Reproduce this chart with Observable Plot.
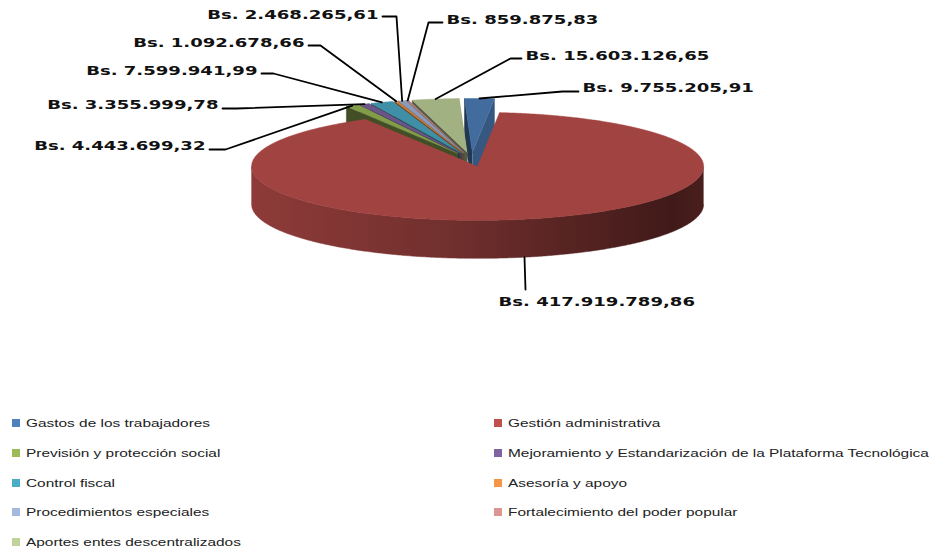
<!DOCTYPE html>
<html>
<head>
<meta charset="utf-8">
<script src="https://cdn.jsdelivr.net/npm/d3@7"></script>
<script src="https://cdn.jsdelivr.net/npm/@observablehq/plot@0.6"></script>
<style>
  html, body { margin: 0; padding: 0; background: #fff; }
  #wrap { position: relative; width: 935px; height: 550px; overflow: hidden; background: #fff; }
  #legend { position: absolute; left: 0; top: 408px; width: 935px; }
  .row { position: absolute; height: 16px; display: flex; align-items: center; }
  .sw { width: 8px; height: 8px; margin-right: 6px; flex: none; }
  .lt { display: inline-block; white-space: nowrap; font-family: "Liberation Sans", Arial, sans-serif;
        font-size: 11px; color: #222; transform: scaleX(1.4); transform-origin: 0 50%; }
</style>
</head>
<body>
<div id="wrap"><div id="chart"></div><div id="legend"></div></div>
<script>
// ---------- data ----------
const categories = [
  "Gastos de los trabajadores",
  "Gestión administrativa",
  "Previsión y protección social",
  "Mejoramiento y Estandarización de la Plataforma Tecnológica",
  "Control fiscal",
  "Asesoría y apoyo",
  "Procedimientos especiales",
  "Fortalecimiento del poder popular",
  "Aportes entes descentralizados"
];
const values = [9755205.91, 417919789.86, 4443699.32, 3355999.78, 7599941.99, 1092678.66, 2468265.61, 859875.83, 15603126.65];
const colors = ["#4F81BD", "#C0504D", "#9BBB59", "#8064A2", "#4BACC6", "#F79646", "#A5B9DD", "#DB9694", "#C0D49A"];

// ---------- layout (pixels) ----------
const W = 935, H = 408;
const CX = 471, CY = 159, RX = 226, RY = 54, DEPTH = 38, EXPLODE = 0.13;
const START_DEG = -2;
// label text positions and anchors, in category order
const labelX = [582, 498, 205, 218, 257, 304, 378, 446, 525];
const labelY = [87, 301, 145, 104, 70, 42, 14, 19, 55];
const labelAnchor = ["start", "start", "end", "end", "end", "end", "end", "start", "start"];
// leader line bend points from the slice toward the label
const leaderBends = [
  [[562, 91], [578, 91]],
  [[525, 289]],
  [[225, 149], [209, 149]],
  [[236, 108], [222, 108]],
  [[273, 73], [261, 73]],
  [[320, 45], [308, 45]],
  [[396, 16], [382, 16]],
  [[428, 22], [442, 22]],
  [[510, 58], [521, 58]]
];

const T = RY / RX, D = DEPTH / RX;
const wx = px => (px - CX) / RX;
const wy = py => (CY - py) / RX;

const fmt = d3.formatLocale({decimal: ",", thousands: ".", grouping: [3], currency: ["Bs. ", ""]}).format("$,.2f");

const rad = Math.PI / 180;
const arcs = d3.pie().sort(null).startAngle(START_DEG * rad).endAngle((START_DEG + 360) * rad)(values);

function slice(i) {
  const a = arcs[i];
  const m = (a.startAngle + a.endAngle) / 2;
  return {i, a0: a.startAngle, a1: a.endAngle, m,
    ex: EXPLODE * Math.sin(m), ey: EXPLODE * T * Math.cos(m)};
}
function P(s, th, r, h) {
  return {X: s.ex + r * Math.sin(th), Y: s.ey + r * Math.cos(th) * T - (1 - h) * D};
}

// painter order: back to front
const slices = values.map((_, i) => slice(i));
const order = slices.slice().sort((p, q) => Math.cos(q.m) - Math.cos(p.m));

const polys = [];
let pid = 0;
function addPoly(pts, fill) {
  const id = pid++;
  for (const p of pts) polys.push({X: p.X, Y: p.Y, id, fill});
}
for (const s of order) {
  const c = d3.color(colors[s.i]);
  // cut faces
  if (Math.sin(s.a0) < 0)
    addPoly([P(s, s.a0, 0, 1), P(s, s.a0, 1, 1), P(s, s.a0, 1, 0), P(s, s.a0, 0, 0)], c.darker(2.4).formatHex());
  if (Math.sin(s.a1) > 0)
    addPoly([P(s, s.a1, 0, 1), P(s, s.a1, 1, 1), P(s, s.a1, 1, 0), P(s, s.a1, 0, 0)], c.darker(1.1).formatHex());
  // outer wall, front-facing part, one shaded polygon
  const n = Math.max(4, Math.ceil((s.a1 - s.a0) / (0.5 * rad)));
  const front = [];
  for (let k = 0; k <= n; k++) {
    const th = s.a0 + (s.a1 - s.a0) * k / n;
    if (Math.cos(th) <= 0.001) front.push(th);
  }
  if (front.length > 1) {
    const pts = front.map(th => P(s, th, 1, 1)).concat(front.slice().reverse().map(th => P(s, th, 1, 0)));
    addPoly(pts, `url(#wall${s.i})`);
  }
  // top face
  const top = [P(s, s.a0, 0, 1)];
  const nt = Math.max(1, Math.ceil((s.a1 - s.a0) / (0.5 * rad)));
  for (let k = 0; k <= nt; k++) top.push(P(s, s.a0 + (s.a1 - s.a0) * k / nt, 1, 1));
  addPoly(top, c.darker(0.5).formatHex());
}

// leader lines
const leaders = [];
slices.forEach((s, i) => {
  const anchor = i === 1 ? P(s, s.m, 1, 0) : P(s, s.m, 1, 1);
  leaders.push({X: anchor.X, Y: anchor.Y, id: i});
  for (const [px, py] of leaderBends[i]) leaders.push({X: wx(px), Y: wy(py), id: i});
});

const labels = values.map((v, i) => ({X: wx(labelX[i]), Y: wy(labelY[i]), text: fmt(v), anchor: labelAnchor[i]}));

const textOpts = {x: "X", y: "Y", text: "text", fontFamily: "DejaVu Sans, Verdana, sans-serif",
  fontWeight: "bold", fontSize: 13, fill: "#111"};

const chart = Plot.plot({
  width: W, height: H, margin: 0,
  style: {background: "#fff"},
  x: {domain: [wx(0), wx(W)], axis: null},
  y: {domain: [wy(H), wy(0)], axis: null},
  color: {type: "identity"},
  marks: [
    Plot.line(polys, {x: "X", y: "Y", z: "id", fill: "fill", stroke: "fill", strokeWidth: 0.5, strokeLinejoin: "round"}),
    Plot.line(leaders, {x: "X", y: "Y", z: "id", stroke: "#000", strokeWidth: 1.8}),
    Plot.text(labels.filter(d => d.anchor === "start"), {...textOpts, textAnchor: "start"}),
    Plot.text(labels.filter(d => d.anchor === "end"), {...textOpts, textAnchor: "end"})
  ]
});
document.getElementById("chart").appendChild(chart);

// gradients for the side walls
const NS = "http://www.w3.org/2000/svg";
const defs = document.createElementNS(NS, "defs");
colors.forEach((col, i) => {
  const c = d3.color(col);
  const g = document.createElementNS(NS, "linearGradient");
  g.setAttribute("id", `wall${i}`);
  g.setAttribute("x1", "0"); g.setAttribute("y1", "0");
  g.setAttribute("x2", "1"); g.setAttribute("y2", "0");
  [[0, c.darker(0.85)], [0.45, c.darker(1.5)], [0.93, c.darker(3.1)], [1, c.darker(2.7)]].forEach(([o, cc]) => {
    const st = document.createElementNS(NS, "stop");
    st.setAttribute("offset", o);
    st.setAttribute("stop-color", cc.formatHex());
    g.appendChild(st);
  });
  defs.appendChild(g);
});
chart.insertBefore(defs, chart.firstChild);

// horizontal stretch of the value labels (as in the reference)
chart.querySelectorAll('g[aria-label="text"] text').forEach(t => {
  const tr = t.getAttribute("transform");
  if (tr) t.setAttribute("transform", tr + " scale(1.39,1)");
  else {
    const x = +t.getAttribute("x") || 0;
    t.setAttribute("transform", `translate(${x},0) scale(1.39,1) translate(${-x},0)`);
  }
});

// legend
const legend = document.getElementById("legend");
const rowCenters = [15, 45, 75, 104, 134];
categories.forEach((name, i) => {
  const col = i % 2, row = Math.floor(i / 2);
  const div = document.createElement("div");
  div.className = "row";
  div.style.left = (col === 0 ? 12 : 494) + "px";
  div.style.top = (rowCenters[row] - 8) + "px";
  const sw = document.createElement("span");
  sw.className = "sw";
  sw.style.background = colors[i];
  const lt = document.createElement("span");
  lt.className = "lt";
  lt.textContent = name;
  div.appendChild(sw);
  div.appendChild(lt);
  legend.appendChild(div);
});
</script>
</body>
</html>
